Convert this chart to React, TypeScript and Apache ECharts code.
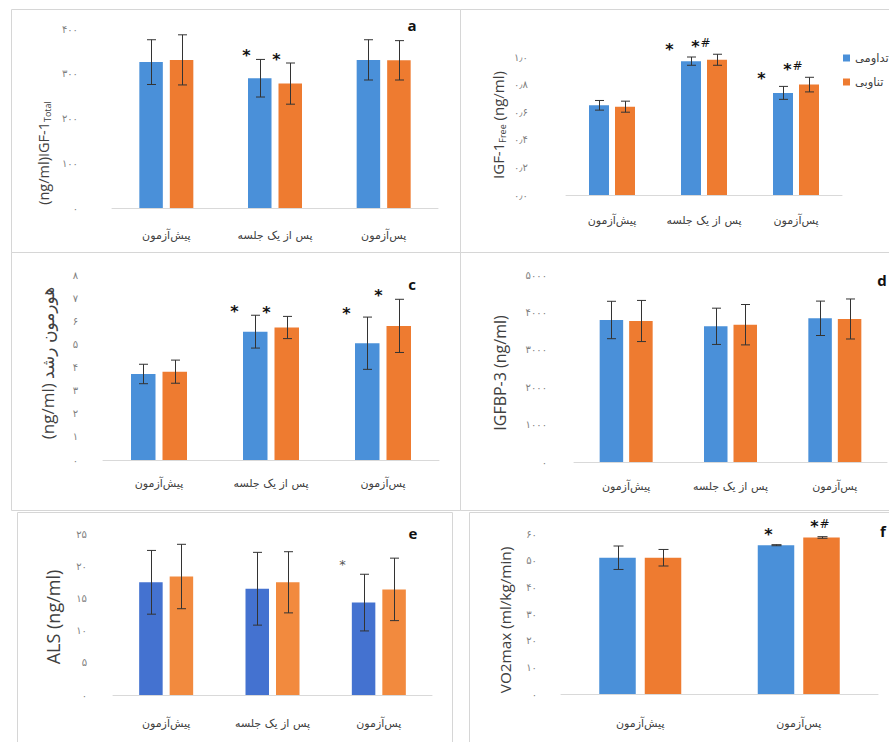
import React, { useEffect, useRef } from 'react';
import * as echarts from 'echarts';

// ---------- data ----------
const categories3 = ['پیش‌آزمون', 'پس از یک جلسه', 'پس‌آزمون'];
const categories2 = ['پیش‌آزمون', 'پس‌آزمون'];
const seriesNames = ['تداومی', 'تناوبی'];

// a: IGF-1 total
const aTicks = [0, 100, 200, 300, 400];
const aCont = [326, 290, 331];
const aContErr = [50, 42, 45];
const aInt = [331, 278, 330];
const aIntErr = [56, 46, 44];
const aContSig = ['', '*', ''];
const aIntSig = ['', '*', ''];

// b: IGF-1 free
const bTicks = [0, 0.2, 0.4, 0.6, 0.8, 1.0];
const bCont = [0.65, 0.97, 0.74];
const bContErr = [0.035, 0.03, 0.047];
const bInt = [0.64, 0.98, 0.8];
const bIntErr = [0.04, 0.04, 0.053];
const bContSig = ['', '*', '*'];
const bIntSig = ['', '*#', '*#'];

// c: growth hormone
const cTicks = [0, 1, 2, 3, 4, 5, 6, 7, 8];
const cCont = [3.72, 5.55, 5.05];
const cContErr = [0.42, 0.71, 1.13];
const cInt = [3.82, 5.73, 5.8];
const cIntErr = [0.5, 0.48, 1.15];
const cContSig = ['', '*', '*'];
const cIntSig = ['', '*', '*'];

// d: IGFBP-3
const dTicks = [0, 1000, 2000, 3000, 4000, 5000];
const dCont = [3797, 3628, 3842];
const dContErr = [500, 485, 460];
const dInt = [3770, 3671, 3824];
const dIntErr = [550, 540, 535];
const dContSig = ['', '', ''];
const dIntSig = ['', '', ''];

// e: ALS
const eTicks = [0, 5, 10, 15, 20, 25];
const eCont = [17.5, 16.5, 14.35];
const eContErr = [4.95, 5.65, 4.4];
const eInt = [18.4, 17.5, 16.4];
const eIntErr = [5.0, 4.75, 4.85];
const eContSig = ['', '', '*'];
const eIntSig = ['', '', ''];

// f: VO2max
const fTicks = [0, 10, 20, 30, 40, 50, 60];
const fCont = [51.1, 55.8];
const fContErr = [4.4, 0.2];
const fInt = [51.1, 58.7];
const fIntErr = [3.1, 0.3];
const fContSig = ['', '*'];
const fIntSig = ['', '*#'];

// ---------- layout / style ----------
const BLUE = '#4a90d9';
const ORANGE = '#ee7b30';
const PERSIAN = '۰۱۲۳۴۵۶۷۸۹';
const toFa = (s: string) => s.replace(/[0-9]/g, (d) => PERSIAN[+d]).replace('.', '٫');
const FA_FONT = 'DejaVu Sans';
const LAT_FONT = 'Open Sans, DejaVu Sans';

type Panel = {
  cats: string[];
  cont: number[]; contErr: number[]; contSig: string[];
  int: number[]; intErr: number[]; intSig: string[];
  ticks: number[];
  decimals: number;
  grid: { left: number; top: number; width: number; height: number };
  barWidth: number; gapPx: number;
  labelMargin: number; catMargin: number;
  colors: [string, string];
  sigDx: number; sigDy: number; sigSize: number; sigColor: string; sigWeight: string;
  cap: number;
};

const panels: Panel[] = [
  {
    cats: categories3, cont: aCont, contErr: aContErr, contSig: aContSig,
    int: aInt, intErr: aIntErr, intSig: aIntSig, ticks: aTicks, decimals: 0,
    grid: { left: 112, top: 29, width: 326, height: 179 },
    barWidth: 23.5, gapPx: 7, labelMargin: 34, catMargin: 22,
    colors: [BLUE, ORANGE], sigDx: -14, sigDy: -4, sigSize: 16, sigColor: '#111', sigWeight: 'bold', cap: 9,
  },
  {
    cats: categories3, cont: bCont, contErr: bContErr, contSig: bContSig,
    int: bInt, intErr: bIntErr, intSig: bIntSig, ticks: bTicks, decimals: 1,
    grid: { left: 566, top: 57, width: 276, height: 138 },
    barWidth: 20, gapPx: 6, labelMargin: 38, catMargin: 20,
    colors: [BLUE, ORANGE], sigDx: -22, sigDy: -8, sigSize: 16, sigColor: '#111', sigWeight: 'bold', cap: 9,
  },
  {
    cats: categories3, cont: cCont, contErr: cContErr, contSig: cContSig,
    int: cInt, intErr: cIntErr, intSig: cIntSig, ticks: cTicks, decimals: 0,
    grid: { left: 103, top: 275, width: 336, height: 185 },
    barWidth: 24.5, gapPx: 7, labelMargin: 25, catMargin: 18,
    colors: [BLUE, ORANGE], sigDx: -21, sigDy: -4, sigSize: 16, sigColor: '#111', sigWeight: 'bold', cap: 9,
  },
  {
    cats: categories3, cont: dCont, contErr: dContErr, contSig: dContSig,
    int: dInt, intErr: dIntErr, intSig: dIntSig, ticks: dTicks, decimals: 0,
    grid: { left: 574, top: 275, width: 313, height: 187 },
    barWidth: 23.5, gapPx: 6, labelMargin: 27, catMargin: 19,
    colors: [BLUE, ORANGE], sigDx: -14, sigDy: -4, sigSize: 16, sigColor: '#111', sigWeight: 'bold', cap: 9,
  },
  {
    cats: categories3, cont: eCont, contErr: eContErr, contSig: eContSig,
    int: eInt, intErr: eIntErr, intSig: eIntSig, ticks: eTicks, decimals: 0,
    grid: { left: 113, top: 534, width: 319, height: 161 },
    barWidth: 23.5, gapPx: 7, labelMargin: 26, catMargin: 23,
    colors: ['#4472d0', '#f28a3e'], sigDx: -22, sigDy: -10, sigSize: 13, sigColor: '#555', sigWeight: 'normal', cap: 9,
  },
  {
    cats: categories2, cont: fCont, contErr: fContErr, contSig: fContSig,
    int: fInt, intErr: fIntErr, intSig: fIntSig, ticks: fTicks, decimals: 0,
    grid: { left: 561, top: 534, width: 317, height: 160 },
    barWidth: 36.5, gapPx: 9, labelMargin: 24, catMargin: 24,
    colors: [BLUE, ORANGE], sigDx: -8, sigDy: -10, sigSize: 16, sigColor: '#111', sigWeight: 'bold', cap: 10,
  },
];

const borders = [
  [11, 9, 449, 243], [460, 9, 440, 243],
  [11, 252, 449, 258], [460, 252, 440, 258],
  [17, 512, 435, 240], [469, 512, 430, 240],
];

const yNames = [
  { x: 43, y: 153, text: '(ng/ml)IGF-1{sub|Total}', size: 14.5 },
  { x: 498, y: 125, text: 'IGF-1{sub|Free} (ng/ml)', size: 15 },
  { x: 47, y: 363, text: '(ng/ml) هورمون رشد', size: 17 },
  { x: 500, y: 373, text: 'IGFBP-3 (ng/ml)', size: 16 },
  { x: 53, y: 617, text: 'ALS (ng/ml)', size: 18 },
  { x: 505, y: 620, text: 'VO2max (ml/kg/min)', size: 15.3 },
];

const letters = [
  { t: 'a', x: 412, y: 25 }, { t: 'c', x: 412, y: 284 }, { t: 'd', x: 882, y: 280 },
  { t: 'e', x: 413, y: 533 }, { t: 'f', x: 883, y: 531 },
];

function buildOption() {
  const grids: any[] = [];
  const xAxes: any[] = [];
  const yAxes: any[] = [];
  const series: any[] = [];

  panels.forEach((p, k) => {
    grids.push({ ...p.grid, containLabel: false });
    xAxes.push({
      type: 'category', gridIndex: k, data: p.cats,
      axisLine: { show: true, lineStyle: { color: '#d9d9d9', width: 1 } },
      axisTick: { show: false },
      axisLabel: { margin: p.catMargin, color: '#404040', fontSize: 11, fontFamily: FA_FONT, interval: 0 },
    });
    const interval = p.ticks[1] - p.ticks[0];
    yAxes.push({
      type: 'value', gridIndex: k, min: 0, max: p.ticks[p.ticks.length - 1], interval,
      axisLine: { show: false }, axisTick: { show: false }, splitLine: { show: false },
      axisLabel: {
        margin: p.labelMargin, color: '#7f7f7f', fontSize: 10, fontFamily: FA_FONT,
        formatter: (v: number) => toFa(v.toFixed(p.decimals)),
      },
    });
    const groups = [
      { vals: p.cont, errs: p.contErr, sigs: p.contSig, side: -1, color: p.colors[0], name: seriesNames[0] },
      { vals: p.int, errs: p.intErr, sigs: p.intSig, side: 1, color: p.colors[1], name: seriesNames[1] },
    ];
    groups.forEach((g) => {
      series.push({
        type: 'bar', name: g.name, xAxisIndex: k, yAxisIndex: k, data: g.vals,
        barWidth: p.barWidth, barGap: (p.gapPx / p.barWidth) * 100 + '%',
        itemStyle: { color: g.color }, z: 2,
      });
      series.push({
        type: 'custom', xAxisIndex: k, yAxisIndex: k, z: 3,
        encode: { x: 0, y: 1 },
        data: g.vals.map((v, i) => [i, v, g.errs[i]]),
        renderItem: (params: any, api: any) => {
          const idx = api.value(0);
          const v = api.value(1);
          const e = api.value(2);
          const c = api.coord([idx, v]);
          const top = api.coord([idx, v + e]);
          const bot = api.coord([idx, v - e]);
          const x = Math.round(c[0] + (g.side * (p.barWidth + p.gapPx)) / 2) + 0.5;
          const ls = { stroke: '#333', lineWidth: 1 };
          const children: any[] = [
            { type: 'line', shape: { x1: x, y1: top[1], x2: x, y2: bot[1] }, style: ls },
            { type: 'line', shape: { x1: x - p.cap / 2, y1: top[1], x2: x + p.cap / 2, y2: top[1] }, style: ls },
            { type: 'line', shape: { x1: x - p.cap / 2, y1: bot[1], x2: x + p.cap / 2, y2: bot[1] }, style: ls },
          ];
          const sig = g.sigs[params.dataIndex];
          if (sig) {
            const sx = x + p.sigDx;
            const sy = top[1] + p.sigDy;
            children.push({
              type: 'text', x: sx, y: sy,
              style: {
                text: '*', fill: p.sigColor, fontSize: p.sigSize, fontWeight: p.sigWeight,
                fontFamily: 'DejaVu Sans', align: 'center', verticalAlign: 'middle',
              },
            });
            if (sig.includes('#')) {
              children.push({
                type: 'text', x: sx + 10, y: sy - 3,
                style: {
                  text: '#', fill: '#111', fontSize: 12, fontFamily: 'DejaVu Sans',
                  align: 'center', verticalAlign: 'middle',
                },
              });
            }
          }
          return { type: 'group', children };
        },
      });
    });
  });

  const graphic: any[] = [];
  borders.forEach(([x, y, w, h]) => {
    graphic.push({
      type: 'rect', shape: { x: x + 0.5, y: y + 0.5, width: w, height: h },
      style: { fill: 'none', stroke: '#d6d6d6', lineWidth: 1 }, silent: true,
    });
  });
  yNames.forEach((n) => {
    graphic.push({
      type: 'text', x: n.x, y: n.y, rotation: Math.PI / 2,
      style: {
        text: n.text, fill: '#404040', fontSize: n.size, fontFamily: LAT_FONT,
        align: 'center', verticalAlign: 'middle',
        rich: { sub: { fontSize: Math.round(n.size * 0.6), fill: '#404040', fontFamily: LAT_FONT, padding: [8, 0, 0, 0] } },
      },
    });
  });
  letters.forEach((l) => {
    graphic.push({
      type: 'text', x: l.x, y: l.y,
      style: {
        text: l.t, fill: '#111', fontSize: 15, fontWeight: 'bold', fontFamily: 'Open Sans, DejaVu Sans',
        align: 'center', verticalAlign: 'middle',
      },
    });
  });

  return {
    animation: false,
    backgroundColor: '#ffffff',
    grid: grids,
    xAxis: xAxes,
    yAxis: yAxes,
    series,
    graphic,
    legend: {
      left: 838, top: 47, orient: 'vertical', itemWidth: 7, itemHeight: 7, itemGap: 12,
      selectedMode: false, icon: 'rect',
      data: seriesNames,
      textStyle: { fontSize: 11.5, color: '#404040', fontFamily: FA_FONT, padding: [0, 0, 0, 0] },
    },
  };
}

export default function App() {
  const ref = useRef<HTMLDivElement>(null);
  useEffect(() => {
    if (!ref.current) return;
    const chart = echarts.init(ref.current, undefined, { renderer: 'svg' });
    chart.setOption(buildOption() as any);
    return () => chart.dispose();
  }, []);
  return (
    <div
      ref={ref}
      style={{ position: 'absolute', left: 0, top: 0, width: 889, height: 742, background: '#fff' }}
    />
  );
}
